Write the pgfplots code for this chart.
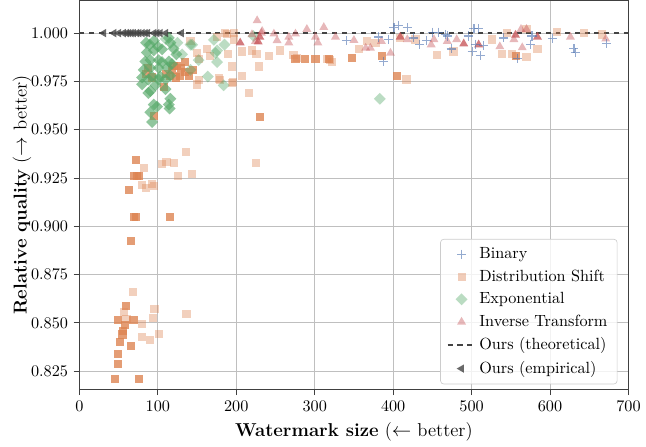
\documentclass[border=0pt]{standalone}
\usepackage{pgfplots}
\pgfplotsset{compat=1.18}
\definecolor{cBlue}{HTML}{4C72B0}
\definecolor{cOrange}{HTML}{DD8452}
\definecolor{cGreen}{HTML}{55A868}
\definecolor{cRed}{HTML}{C44E52}
\definecolor{cGray}{HTML}{444444}
\begin{document}
\begin{tikzpicture}
\begin{axis}[
  scale only axis, width=339pt, height=240pt,
  xmin=0, xmax=700, ymin=0.8156, ymax=1.0168,
  xtick={0,100,200,300,400,500,600,700},
  ytick={0.825,0.85,0.875,0.9,0.925,0.95,0.975,1.0},
  yticklabel style={/pgf/number format/.cd, fixed, fixed zerofill, precision=3},
  scaled y ticks=false,
  grid=major, major grid style={black!25, line width=0.6pt},
  axis line style={black!75, line width=0.8pt},
  tick style={black!75, line width=0.6pt}, tick align=outside, tick pos=left, major tick length=3.5pt,
  xlabel={\textbf{Watermark size} ($\leftarrow$ better)},
  ylabel={\textbf{Relative quality} ($\rightarrow$ better)},
  label style={font=\fontsize{11.5}{13}\selectfont},
  xlabel style={yshift=0pt},
  ylabel style={yshift=-7pt},
  legend style={at={(0.98,0.013)}, anchor=south east, draw=black!20, rounded corners=2pt,
    fill=white, fill opacity=0.8, text opacity=1, font=\fontsize{10}{12}\selectfont,
    row sep=1.5pt, inner xsep=4pt, inner ysep=3pt},
  legend cell align=left,
]
% legend images
\addlegendimage{only marks, cBlue, mark=+, mark size=2.8pt, mark options={draw opacity=0.6, line width=0.7pt}}
\addlegendentry{Binary}
\addlegendimage{only marks, cOrange, mark=square*, mark size=2.5pt, mark options={draw opacity=0, fill opacity=0.4}}
\addlegendentry{Distribution Shift}
\addlegendimage{only marks, cGreen, mark=square*, mark size=2.6pt, mark options={rotate=45, draw opacity=0, fill opacity=0.4}}
\addlegendentry{Exponential}
\addlegendimage{only marks, cRed, mark=triangle*, mark size=3.2pt, mark options={draw opacity=0, fill opacity=0.4}}
\addlegendentry{Inverse Transform}
\addlegendimage{cGray, dashed, line width=0.9pt}
\addlegendentry{Ours (theoretical)}
\addlegendimage{only marks, cGray, mark=triangle*, mark size=3pt, mark options={rotate=90, draw opacity=0, fill opacity=0.8}}
\addlegendentry{Ours (empirical)}

% Distribution Shift light
\addplot[forget plot, only marks, cOrange, mark=square*, mark size=2.5pt, mark options={draw opacity=0, fill opacity=0.38}] coordinates {
(82,0.930) (105.5,0.9322) (111,0.9333) (121,0.9327) (135.6,0.9385) (125.9,0.926) (143.7,0.927)
(80,0.9213) (85,0.920) (92.7,0.9217) (94.8,0.921)
(57.4,0.8557) (60,0.852) (80,0.8495) (93.5,0.8527) (95.7,0.857) (68.5,0.8662) (80,0.8425)
(89.7,0.841) (101,0.8443) (136.5,0.8548)
(188,0.9996) (175.6,0.998) (163,0.992) (150,0.9897) (152,0.9866) (167,0.988) (189.6,0.989)
(196.8,0.9967) (207.5,0.9905) (220,0.991) (225.8,0.989) (228.7,0.9827) (242,0.988) (256,0.991)
(273,0.9888) (277,0.987) (316,0.9866) (322,0.985) (194.7,0.9827) (207.5,0.978) (195,0.974)
(179,0.9757) (150,0.9734) (152,0.9757) (177.7,0.9765) (196,0.9748) (216,0.969) (225,0.9327)
(186,1.0) (197,1.0) (141.6,0.996) (320,0.986) (356,0.992) (367,0.9958) (377.5,0.995) (417,0.976)
(456,0.9888) (477,0.9905) (409,0.9975) (428.5,0.9967) (526,0.9967) (545,1.0) (539,0.989) (552,0.989)
(570,0.9875) (570,1.002) (584,0.992) (609,1.0005) (643,1.0) (666.5,0.9993)
};
% Distribution Shift dark
\addplot[forget plot, only marks, cOrange, mark=square*, mark size=2.5pt, mark options={draw opacity=0, fill opacity=0.8}] coordinates {
(72.7,0.9345) (70,0.926) (73,0.926) (76,0.926) (63.8,0.9187) (70,0.905) (72,0.905) (116,0.905)
(65.9,0.8924) (59,0.8588) (48.9,0.8513) (58.7,0.8487) (56,0.846) (55,0.844) (51.9,0.840)
(49.7,0.834) (49.7,0.8289) (45,0.821) (76.5,0.821) (65.9,0.838) (69,0.8513)
(92.7,0.977) (107.5,0.972) (94.8,0.957) (110,0.979) (115,0.978) (118,0.981) (120,0.983)
(125,0.983) (130,0.982) (135,0.980) (128,0.978) (140,0.978) (135,0.985) (123,0.977) (145,0.981)
(288,0.9866) (301,0.9866) (318,0.9866) (275.5,0.9866) (348,0.987) (386,0.988) (557,0.988)
(230.8,0.9564) (405,0.978) (88,0.982) (85,0.979)
};
% Exponential light
\addplot[forget plot, only marks, cGreen, mark=square*, mark size=2.6pt, mark options={rotate=45, draw opacity=0, fill opacity=0.4}] coordinates {
(131,0.989) (141.6,0.994) (152,0.986) (141.6,0.981) (163.7,0.9775) (171.4,0.9965) (175.5,0.991)
(175.5,0.985) (184,0.973) (185,0.994) (143.7,0.994) (173.5,0.9897) (383,0.966) (110,0.997)
(125,0.995) (222,0.9985)
};
% Exponential dark
\addplot[forget plot, only marks, cGreen, mark=square*, mark size=2.6pt, mark options={rotate=45, draw opacity=0, fill opacity=0.65}] coordinates {
(89.7,0.994) (100,0.993) (114,0.9975) (116,0.995) (86,0.990) (94.8,0.991) (105.4,0.9916)
(120,0.992) (123.7,0.989) (84,0.9853) (90.5,0.986) (101,0.986) (114,0.9853) (82,0.981)
(90.5,0.982) (101,0.982) (112,0.982) (118,0.984) (80,0.977) (92.7,0.9775) (103,0.9775)
(116,0.978) (80,0.9735) (90.5,0.970) (88,0.969) (109.7,0.971) (116,0.966) (114,0.963)
(94.8,0.963) (99,0.962) (90.5,0.959) (92.7,0.954) (115,0.961) (97,0.973) (109.7,0.976)
(88,0.976) (105.4,0.985) (101,0.976) (85,0.995) (95,0.996)
};
% Inverse Transform light
\addplot[forget plot, only marks, cRed, mark=triangle*, mark size=3.2pt, mark options={draw opacity=0, fill opacity=0.4}] coordinates {
(226.6,1.0065) (220,0.9993) (224.5,0.9958) (232,1.0) (233,1.001) (248,0.9996) (252,0.9962)
(267,0.998) (267,0.995) (275.5,0.9996) (290,1.002) (301,0.998) (304,0.995) (311.6,1.003)
(326.5,0.998) (350,0.9963) (365,0.9923) (371,0.9923) (385,0.9958) (396.6,0.9897) (418,0.9967)
(448.5,0.994) (452,0.9967) (469,0.9958) (481,0.9967) (536,0.993) (554,0.9967) (563,1.002)
(570,1.002) (564.6,0.9925) (626,0.998) (671,0.997)
};
% Inverse Transform dark
\addplot[forget plot, only marks, cRed, mark=triangle*, mark size=3.2pt, mark options={draw opacity=0, fill opacity=0.75}] coordinates {
(205,0.995) (228,0.9955) (230,0.998) (409,0.998) (490,0.9945) (509,0.994) (556,0.999) (584,0.998)
};
% Binary
\addplot[forget plot, only marks, cBlue, mark=+, mark size=2.8pt, mark options={draw opacity=0.6, line width=0.7pt}] coordinates {
(340.5,0.9962) (381.7,0.998) (388,0.9853) (394.5,0.9967) (401,1.003) (407,1.004) (418,1.003)
(426,0.9975) (434,0.994) (442.5,0.9963) (450,1.0005) (458,1.0005) (469,0.9985) (474,0.9918)
(467,0.9993) (496.5,0.9985) (503,1.0023) (509,1.0023) (500.8,0.9905) (505,0.9943) (511,0.9883)
(515.7,0.9936) (541,0.9975) (559,0.987) (575,0.994) (577,0.9985) (603,0.997) (630.5,0.992)
(632,0.990) (672,0.9945)
};
% Ours theoretical
\addplot[forget plot, cGray, dashed, line width=0.9pt] coordinates {(0,1.0) (700,1.0)};
% Ours empirical
\addplot[forget plot, only marks, cGray, mark=triangle*, mark size=3pt, mark options={rotate=90, draw opacity=0, fill opacity=0.8}] coordinates {
(31,1.0) (44,1.0) (50,1.0) (56,1.0) (60,1.0) (63,1.0) (66,1.0) (69,1.0) (73,1.0) (76,1.0)
(80,1.0) (84,1.0) (87,1.0) (95,1.0) (99,1.0) (103,1.0) (110,1.0) (130,1.0)
};
\end{axis}
\path (current bounding box.south west) ++(-4.5pt,0) coordinate (bbx);
\path[use as bounding box] (bbx) rectangle (current bounding box.north east);
\end{tikzpicture}
\end{document}
